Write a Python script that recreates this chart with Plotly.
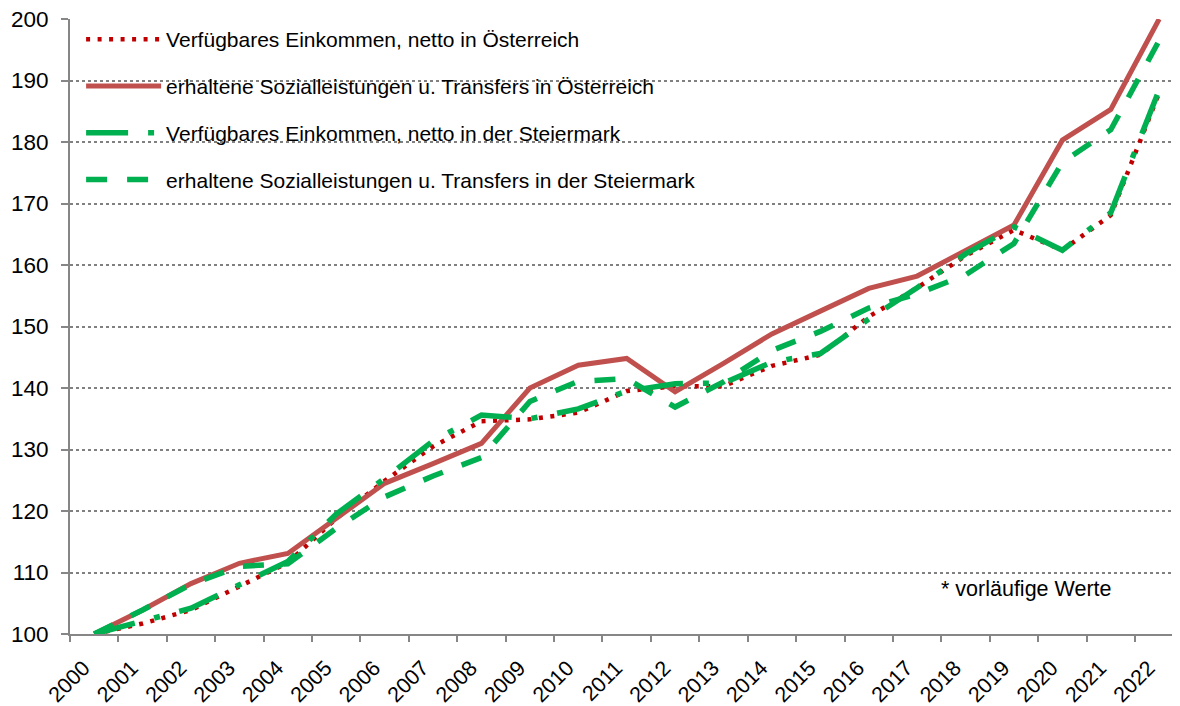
import plotly.graph_objects as go

years = list(range(2000, 2023))
year_labels = [str(y) for y in years]

verf_oe = [100, 101.7, 103.9, 107.7, 111.6, 118.8, 124.9, 130.5, 134.6, 134.9, 136.0, 139.5,
           140.3, 140.3, 143.6, 145.4, 151.6, 156.3, 161.5, 165.7, 162.4, 168.1, 188.0]
soz_oe = [100, 103.9, 108.2, 111.5, 113.1, 118.8, 124.5, 127.7, 131.0, 140.0, 143.7, 144.8,
          139.4, 144.0, 148.8, 152.5, 156.2, 158.2, 162.3, 166.5, 180.3, 185.3, 200.0]
verf_st = [100, 102.1, 104.2, 108.0, 111.8, 119.5, 125.3, 131.4, 135.6, 135.0, 136.6, 139.5,
           140.7, 140.8, 144.2, 145.6, 151.2, 156.3, 161.8, 166.2, 162.4, 168.5, 188.5]
soz_st = [100, 103.9, 108.1, 111.0, 111.4, 117.2, 122.3, 125.7, 128.7, 137.8, 141.1, 141.5,
          136.9, 141.0, 146.1, 149.2, 153.0, 155.3, 158.4, 163.5, 176.7, 182.0, 196.5]

names = [
    "Verfügbares Einkommen, netto in Österreich",
    "erhaltene Sozialleistungen u. Transfers in Österreich",
    "Verfügbares Einkommen, netto in der Steiermark",
    "erhaltene Sozialleistungen u. Transfers in der Steiermark",
]
y_ticks = list(range(100, 201, 10))
note = "* vorläufige Werte"

FONT = "Arial, Liberation Sans, sans-serif"

fig = go.Figure()
styles = [
    dict(color="#C00000", width=4.5, dash="4px,7.5px"),
    dict(color="#C0504D", width=5, dash="solid"),
    dict(color="#00B050", width=5.5, dash="42px,20px,6px,20px"),
    dict(color="#00B050", width=5.5, dash="21px,20px"),
]
for i, (name, vals) in enumerate(zip(names, [verf_oe, soz_oe, verf_st, soz_st])):
    fig.add_trace(go.Scatter(
        x=years, y=vals, name=name, mode="lines",
        line=styles[i], legendgroup=f"g{i}",
    ))

# category boundaries (Excel-style ticks between years)
boundaries = [y + 0.5 for y in range(1999, 2022)]

fig.update_layout(
    width=1172, height=698,
    margin=dict(l=62, r=0, t=11, b=72),
    paper_bgcolor="white", plot_bgcolor="white",
    font=dict(family=FONT, size=21, color="#000000"),
    showlegend=True,
    legend=dict(
        x=0.01, y=1.0, xanchor="left", yanchor="top",
        bgcolor="rgba(255,255,255,0)", borderwidth=0,
        font=dict(family=FONT, size=21, color="#000000"),
        traceorder="grouped", tracegroupgap=16.5, itemwidth=75,
    ),
    xaxis=dict(
        range=[1999.5, 2022.43], automargin=False,
        tickmode="array", tickvals=[y - 0.22 for y in years], ticktext=year_labels,
        ticks="", showline=True, linecolor="#868686", linewidth=2,
        showgrid=False, tickangle=-45, tickfont=dict(size=21.5),
        ticklabelstandoff=11, zeroline=False, ticklabeloverflow="allow",
        minor=dict(tickmode="array", tickvals=boundaries, ticks="outside",
                   ticklen=6, tickwidth=1.5, tickcolor="#868686", showgrid=False),
    ),
    yaxis=dict(
        range=[100, 200], tickvals=y_ticks, ticks="outside", ticklen=7,
        automargin=False, ticklabeloverflow="allow",
        tickwidth=1.5, tickcolor="#868686", showline=True, linecolor="#868686",
        linewidth=2, showgrid=True, gridcolor="#808080", gridwidth=1.5,
        griddash="dot", zeroline=False, tickfont=dict(size=22.5),
        ticklabelstandoff=8,
    ),
    annotations=[dict(
        text=note, xref="paper", yref="paper", x=0.783, y=0.073,
        xanchor="left", yanchor="middle", showarrow=False,
        font=dict(family=FONT, size=21.5, color="#000000"),
    )],
)

fig.write_html("out.html")
